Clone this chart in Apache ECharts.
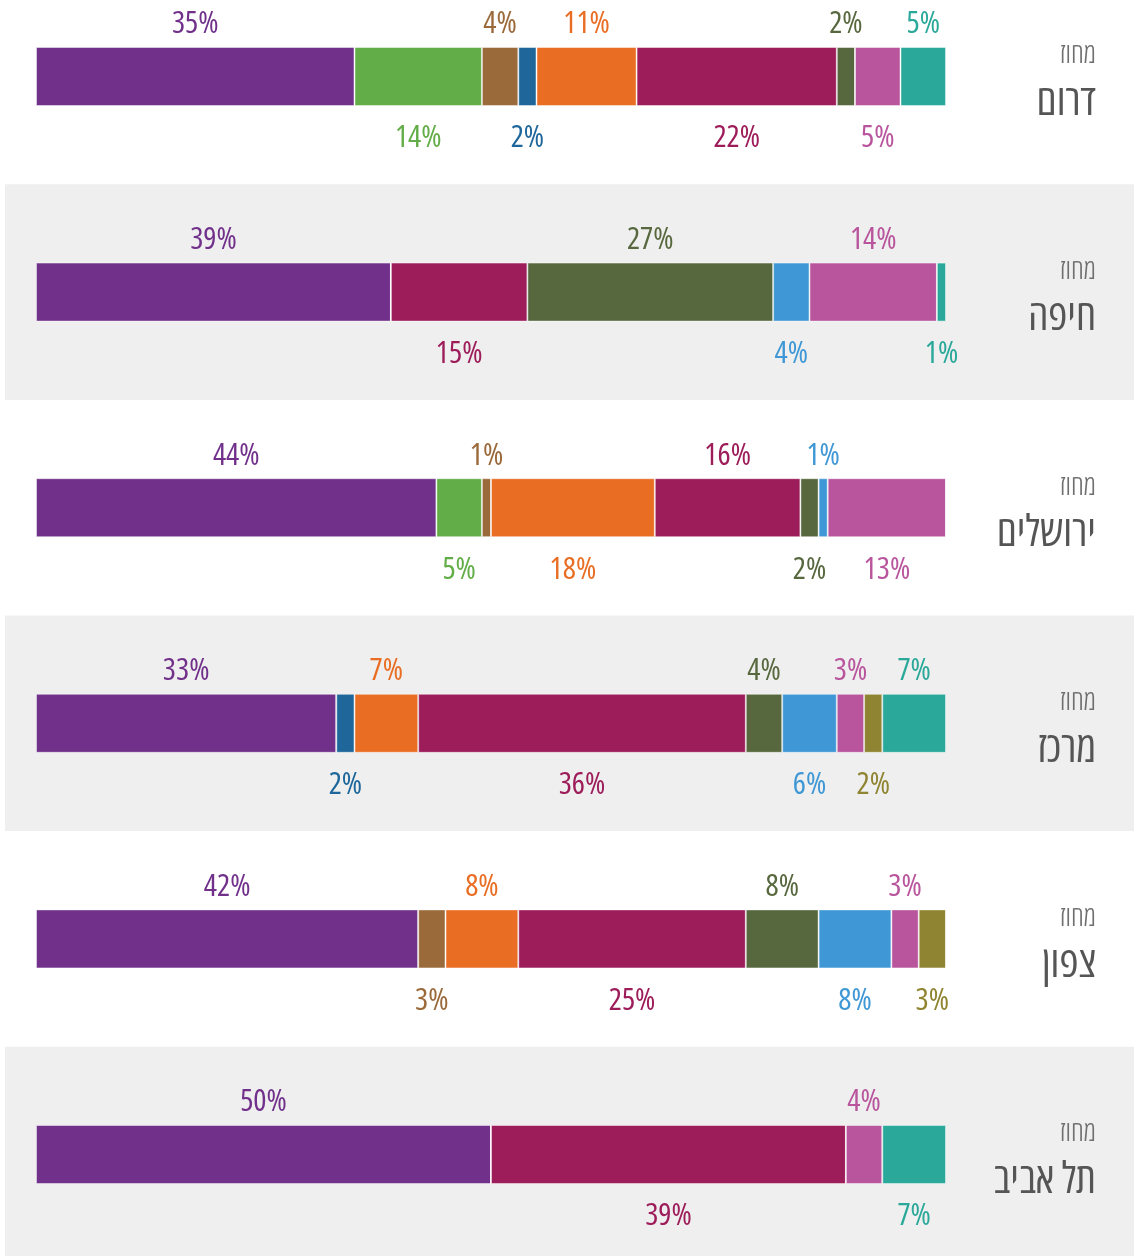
<!DOCTYPE html>
<html>
<head>
<meta charset="utf-8">
<script src="https://cdn.jsdelivr.net/npm/echarts@6/dist/echarts.min.js"></script>
<style>
  html, body { margin: 0; padding: 0; background: #ffffff; }
  #chart { width: 1134px; height: 1256px; }
</style>
</head>
<body>
<div id="chart"></div>
<script>
// Districts, top to bottom
const districts = ['דרום', 'חיפה', 'ירושלים', 'מרכז', 'צפון', 'תל אביב'];
const districtPrefix = 'מחוז';

// Share (%) of each group per district, in stacking order
const purple  = [35, 39, 44, 33, 42, 50];
const green   = [14,  0,  5,  0,  0,  0];
const brown   = [ 4,  0,  1,  0,  3,  0];
const navy    = [ 2,  0,  0,  2,  0,  0];
const orange  = [11,  0, 18,  7,  8,  0];
const crimson = [22, 15, 16, 36, 25, 39];
const olive   = [ 2, 27,  2,  4,  8,  0];
const sky     = [ 0,  4,  1,  6,  8,  0];
const pink    = [ 5, 14, 13,  3,  3,  4];
const mustard = [ 0,  0,  0,  2,  3,  0];
const teal    = [ 5,  1,  0,  7,  0,  7];

const groups = [
  { values: purple,  color: '#71318b' },
  { values: green,   color: '#62ad47' },
  { values: brown,   color: '#9b6a3b' },
  { values: navy,    color: '#1f679b' },
  { values: orange,  color: '#e96e24' },
  { values: crimson, color: '#9d1c5a' },
  { values: olive,   color: '#58683e' },
  { values: sky,     color: '#3f98d5' },
  { values: pink,    color: '#b8559d' },
  { values: mustard, color: '#8f8431' },
  { values: teal,    color: '#2aa899' }
];

// condensed Open Sans (covers Latin digits and Hebrew)
const FONT = '"Open Sans", sans-serif';
const STRETCH = 'condensed';
const ROW = 215.6;
const TOP = 76.5 - ROW / 2;

// labels alternate above / below the bar along each row
const rowCounter = districts.map(() => 0);
const series = groups.map((g) => ({
  type: 'bar',
  stack: 'share',
  xAxisIndex: 0,
  yAxisIndex: 0,
  barWidth: 59,
  itemStyle: { color: g.color, borderColor: 'rgba(255,255,255,0.45)', borderWidth: 1 },
  emphasis: { disabled: true },
  data: g.values.map((v, r) => {
    if (!v) return { value: 0, label: { show: false } };
    const above = rowCounter[r] % 2 === 0;
    rowCounter[r]++;
    return {
      value: v,
      label: {
        show: true,
        position: 'inside',
        offset: [0, above ? -52 : 62],
        formatter: v + '%',
        color: g.color,
        fontFamily: FONT,
        fontStyle: STRETCH,
        fontWeight: 400,
        fontSize: 31
      }
    };
  })
}));

const chart = echarts.init(document.getElementById('chart'), null, { renderer: 'canvas' });
chart.setOption({
  animation: false,
  backgroundColor: '#ffffff',
  grid: [
    { left: 36, width: 910, top: TOP, height: ROW * districts.length, outerBoundsMode: 'none', containLabel: false },
    { left: 5, right: 0, top: TOP, height: ROW * districts.length, outerBoundsMode: 'none', containLabel: false, z: 0 }
  ],
  xAxis: [
    { type: 'value', gridIndex: 0, min: 0, max: 100, show: false },
    { type: 'value', gridIndex: 1, min: 0, max: 1, show: false }
  ],
  yAxis: [
    {
      type: 'category',
      gridIndex: 0,
      data: districts,
      inverse: true,
      position: 'right',
      axisLine: { show: false },
      axisTick: { show: false },
      splitLine: { show: false },
      axisLabel: {
        margin: 150,
        align: 'right',
        padding: [6, 0, 0, 0],
        formatter: (v) => '{a|' + districtPrefix + '}\n{b|' + v + '}',
        rich: {
          a: { fontFamily: FONT, fontStyle: STRETCH, fontWeight: 300, fontSize: 28, color: '#6f6f6f', lineHeight: 46, align: 'right' },
          b: { fontFamily: FONT, fontStyle: STRETCH, fontWeight: 400, fontSize: 43, color: '#555555', lineHeight: 48, align: 'right' }
        }
      }
    },
    {
      type: 'category',
      gridIndex: 1,
      data: districts,
      inverse: true,
      axisLine: { show: false },
      axisTick: { show: false },
      axisLabel: { show: false },
      splitLine: { show: false },
      splitArea: { show: true, areaStyle: { color: ['#ffffff', '#efefef'] } }
    }
  ],
  series: series
});
</script>
</body>
</html>
